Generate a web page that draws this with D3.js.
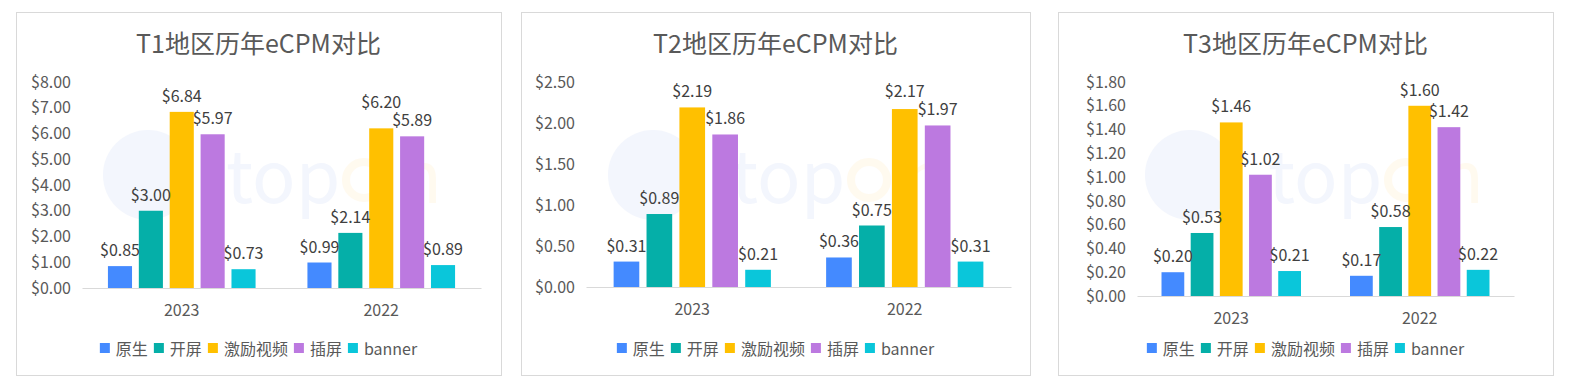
<!DOCTYPE html>
<html>
<head>
<meta charset="utf-8">
<script src="https://cdn.jsdelivr.net/npm/d3@7"></script>
<style>
  body { margin: 0; background: #fff; }
  text { font-family: "Noto Sans CJK SC", "Noto Sans", sans-serif; }
</style>
</head>
<body>
<svg id="chart" width="1569" height="381"></svg>
<script>
// data
const years = ["2023", "2022"];
const adTypes = ["原生", "开屏", "激励视频", "插屏", "banner"];
const adColors = ["#448AFF", "#05AFA8", "#FFC000", "#BC79E0", "#0AC6DA"];

const t1Values = [
  [0.85, 3.00, 6.84, 5.97, 0.73],
  [0.99, 2.14, 6.20, 5.89, 0.89]
];
const t2Values = [
  [0.31, 0.89, 2.19, 1.86, 0.21],
  [0.36, 0.75, 2.17, 1.97, 0.31]
];
const t3Values = [
  [0.20, 0.53, 1.46, 1.02, 0.21],
  [0.17, 0.58, 1.60, 1.42, 0.22]
];

const t1Ticks = [0, 1, 2, 3, 4, 5, 6, 7, 8];
const t2Ticks = [0, 0.5, 1, 1.5, 2, 2.5];
const t3Ticks = [0, 0.2, 0.4, 0.6, 0.8, 1.0, 1.2, 1.4, 1.6, 1.8];

const titles = ["T1地区历年eCPM对比", "T2地区历年eCPM对比", "T3地区历年eCPM对比"];

// layout of the three panels
const panels = [
  {box: [16, 501], plot: [82, 481], base: 288, values: t1Values, ticks: t1Ticks},
  {box: [521, 1030], plot: [586, 1011], base: 287, values: t2Values, ticks: t2Ticks},
  {box: [1058, 1553], plot: [1137, 1514], base: 296, values: t3Values, ticks: t3Ticks}
];
const boxTop = 12, boxBottom = 375, plotTop = 82;
const labelSize = 16;

const svg = d3.select("#chart");
const fmt = d3.format("$.2f");

panels.forEach((p, i) => {
  const g = svg.append("g");

  // outer frame
  g.append("rect")
    .attr("x", p.box[0] + 0.5).attr("y", boxTop + 0.5)
    .attr("width", p.box[1] - p.box[0]).attr("height", boxBottom - boxTop)
    .attr("fill", "#fff").attr("stroke", "#D9D9D9");

  const cx = (p.box[0] + p.box[1]) / 2;

  g.append("text")
    .attr("x", cx).attr("y", 42)
    .attr("text-anchor", "middle").attr("dominant-baseline", "central")
    .attr("font-size", 25).attr("fill", "#595959")
    .text(titles[i]);

  // scales
  const x0 = d3.scaleBand().domain(years).range(p.plot);
  const groupW = x0.bandwidth() * 0.74;
  const x1 = d3.scaleBand().domain(adTypes).range([0, groupW]).paddingInner(0.22);
  const y = d3.scaleLinear()
    .domain([0, d3.max(p.ticks)])
    .range([p.base, plotTop]);

  // y axis labels only
  const yAxis = d3.axisLeft(y).tickValues(p.ticks).tickFormat(fmt).tickSize(0).tickPadding(11);
  const ya = g.append("g").attr("transform", "translate(" + p.plot[0] + ",0)").call(yAxis);
  ya.select(".domain").remove();
  ya.selectAll("text").attr("font-size", 16).attr("fill", "#595959")
    .attr("font-family", "'Noto Sans CJK SC', sans-serif");

  // watermark (faint logo)
  const wm = g.append("g").attr("opacity", 0.06).attr("pointer-events", "none");
  const wx = p.box[0] + 132;
  wm.append("circle").attr("cx", wx).attr("cy", 175).attr("r", 45).attr("fill", "#3F6FE0");
  wm.append("text").attr("x", wx + 78).attr("y", 203)
    .attr("font-size", 72).attr("font-family", "'Noto Sans', sans-serif")
    .attr("fill", "#3F6FE0").text("top");
  wm.append("circle").attr("cx", wx + 216).attr("cy", 180).attr("r", 18)
    .attr("fill", "none").attr("stroke", "#FFB000").attr("stroke-width", 8);
  wm.append("text").attr("x", wx + 250).attr("y", 203)
    .attr("font-size", 72).attr("font-family", "'Noto Sans', sans-serif")
    .attr("fill", "#FFB000").text("n");

  // bars
  const groups = g.selectAll(".yr")
    .data(years)
    .enter().append("g")
    .attr("transform", (d) => "translate(" + (x0(d) + (x0.bandwidth() - groupW) / 2) + ",0)");

  groups.each(function(yr, yi) {
    const rows = adTypes.map((t, k) => ({type: t, v: p.values[yi][k], c: adColors[k]}));
    const gg = d3.select(this);
    gg.selectAll("rect").data(rows).enter().append("rect")
      .attr("x", (d) => x1(d.type))
      .attr("y", (d) => y(d.v))
      .attr("width", x1.bandwidth())
      .attr("height", (d) => p.base - y(d.v))
      .attr("fill", (d) => d.c);
    const labels = gg.selectAll("text").data(rows).enter().append("text")
      .attr("x", (d) => x1(d.type) + x1.bandwidth() / 2)
      .attr("y", (d) => y(d.v) - 17)
      .attr("text-anchor", "middle").attr("dominant-baseline", "central")
      .attr("font-size", labelSize).attr("fill", "#404040")
      .text((d) => fmt(d.v));

    // push the taller neighbour's label up when two labels collide
    const nodes = labels.nodes();
    for (let k = 0; k < nodes.length - 1; k++) {
      const a = nodes[k].getBBox(), b = nodes[k + 1].getBBox();
      const hx = a.x + a.width > b.x && b.x + b.width > a.x;
      const ya_ = +nodes[k].getAttribute("y"), yb_ = +nodes[k + 1].getAttribute("y");
      const sep = Math.abs(ya_ - yb_);
      if (hx && sep < labelSize + 2) {
        const up = rows[k].v > rows[k + 1].v ? nodes[k] : nodes[k + 1];
        up.setAttribute("y", +up.getAttribute("y") - (labelSize + 2 - sep));
      }
    }
  });

  // x axis
  const xAxis = d3.axisBottom(x0).tickSize(0).tickPadding(0);
  const xa = g.append("g").attr("transform", "translate(0," + p.base + ")").call(xAxis);
  xa.select(".domain").attr("stroke", "#D9D9D9");
  xa.selectAll("text").attr("font-size", 16).attr("fill", "#595959")
    .attr("dy", null).attr("y", 21).attr("dominant-baseline", "central")
    .attr("font-family", "'Noto Sans CJK SC', sans-serif");

  // legend
  const leg = g.append("g");
  let lx = 0;
  adTypes.forEach((t, k) => {
    leg.append("rect").attr("x", lx).attr("y", -5).attr("width", 10).attr("height", 10)
      .attr("fill", adColors[k]);
    const tx = leg.append("text").attr("x", lx + 16).attr("y", 0)
      .attr("dominant-baseline", "central").attr("font-size", 16).attr("fill", "#595959")
      .text(t);
    lx += 16 + tx.node().getComputedTextLength() + 6;
  });
  lx -= 6;
  leg.attr("transform", "translate(" + (cx - lx / 2) + ",348)");
});
</script>
</body>
</html>
